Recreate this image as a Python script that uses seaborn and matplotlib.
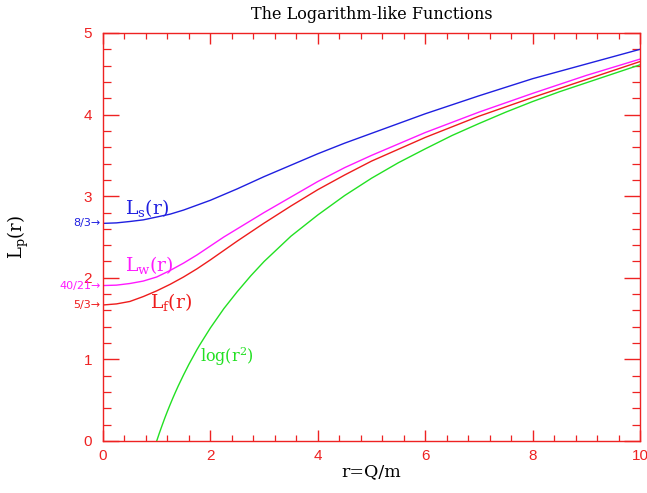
import numpy as np
import pandas as pd
import matplotlib
matplotlib.use("Agg")
import matplotlib.pyplot as plt
from matplotlib.ticker import MultipleLocator
import seaborn as sns

# ---- data ----
r_vals = [0, 0.25, 0.5, 0.75, 1.0, 1.25, 1.5, 1.75, 2.0, 2.25, 2.5, 2.75, 3.0,
          3.5, 4.0, 4.5, 5.0, 6.0, 7.0, 8.0, 9.0, 10.0]
Ls_vals = [2.667, 2.673, 2.69, 2.71, 2.745, 2.78, 2.83, 2.89, 2.95, 3.02, 3.09, 3.165, 3.24,
           3.38, 3.52, 3.65, 3.77, 4.01, 4.23, 4.44, 4.62, 4.80]
Lw_vals = [1.905, 1.91, 1.93, 1.96, 2.01, 2.09, 2.18, 2.28, 2.39, 2.50, 2.60, 2.70, 2.80,
           2.99, 3.18, 3.35, 3.50, 3.78, 4.03, 4.26, 4.48, 4.68]
Lf_vals = [1.667, 1.68, 1.71, 1.77, 1.84, 1.92, 2.01, 2.11, 2.22, 2.335, 2.45, 2.56, 2.67,
           2.88, 3.08, 3.26, 3.43, 3.72, 3.98, 4.21, 4.43, 4.65]
rg_vals = [1.0, 1.05, 1.1, 1.15, 1.2, 1.25, 1.3, 1.35, 1.4, 1.5, 1.6, 1.75, 1.8, 2.0, 2.25,
           2.5, 2.75, 3.0, 3.5, 4.0, 4.5, 5.0, 5.5, 6.0, 6.5, 7.0, 7.5, 8.0, 8.5, 9.0, 9.5, 10.0]
log_vals = [0.0, 0.098, 0.19, 0.28, 0.365, 0.446, 0.525, 0.60, 0.673, 0.81, 0.94, 1.12, 1.176,
            1.386, 1.622, 1.83, 2.023, 2.20, 2.51, 2.77, 3.008, 3.22, 3.41, 3.58, 3.744,
            3.89, 4.03, 4.16, 4.28, 4.39, 4.50, 4.61]

start_labels = ["8/3", "40/21", "5/3"]
start_values = [8 / 3, 40 / 21, 5 / 3]

title = "The Logarithm-like Functions"
xlabel = "r=Q/m"
ylabel = r"$\mathrm{L_p(r)}$"

BLUE = "#1f1fe0"
MAG = "#ff19ff"
RED = "#ee1c1c"
GREEN = "#22e022"
AXRED = "#ee2222"

sns.set_theme(style="white")
plt.rcParams["mathtext.fontset"] = "dejavuserif"
plt.rcParams["font.family"] = ["DejaVu Sans"]

fig = plt.figure(figsize=(6.47, 4.93), dpi=100)
ax = fig.add_axes([103 / 647, 1 - 441 / 493, (640 - 103) / 647, (441 - 33) / 493])

df = pd.DataFrame({"r": r_vals, "Ls": Ls_vals, "Lw": Lw_vals, "Lf": Lf_vals})
dg = pd.DataFrame({"r": rg_vals, "log": log_vals})

lw = 1.0
sns.lineplot(data=dg, x="r", y="log", ax=ax, color=GREEN, linewidth=lw, sort=False)
sns.lineplot(data=df, x="r", y="Lf", ax=ax, color=RED, linewidth=lw, sort=False)
sns.lineplot(data=df, x="r", y="Lw", ax=ax, color=MAG, linewidth=lw, sort=False)
sns.lineplot(data=df, x="r", y="Ls", ax=ax, color=BLUE, linewidth=lw, sort=False)

ax.set_xlim(0, 10)
ax.set_ylim(0, 5)
ax.xaxis.set_major_locator(MultipleLocator(2))
ax.xaxis.set_minor_locator(MultipleLocator(0.4))
ax.yaxis.set_major_locator(MultipleLocator(1))
ax.yaxis.set_minor_locator(MultipleLocator(0.2))
ax.tick_params(axis="x", which="major", direction="in", length=8, width=1.0,
               top=True, bottom=True, colors=AXRED, labelsize=11, pad=6)
ax.tick_params(axis="x", which="minor", direction="in", length=4, width=0.9,
               top=True, bottom=True, colors=AXRED)
ax.tick_params(axis="y", which="major", direction="in", length=11.5, width=1.0,
               left=True, right=True, colors=AXRED, labelsize=11, pad=8)
ax.tick_params(axis="y", which="minor", direction="in", length=5.5, width=0.9,
               left=True, right=True, colors=AXRED)
for lab in ax.get_xticklabels() + ax.get_yticklabels():
    lab.set_fontfamily("Liberation Sans")
for s in ax.spines.values():
    s.set_color(AXRED)
    s.set_linewidth(1.0)

ax.set_title(title, fontfamily="DejaVu Serif", fontsize=11.5, color="black", pad=10)
ax.set_xlabel(xlabel, fontfamily="DejaVu Serif", fontsize=12.5, color="black", labelpad=0)
ax.set_ylabel(ylabel, fontsize=13, color="black", labelpad=38)

# curve labels
ax.text(0.41, 2.86, r"$\mathrm{L_s(r)}$", color=BLUE, fontsize=13.5, va="center", ha="left")
ax.text(0.41, 2.16, r"$\mathrm{L_w(r)}$", color=MAG, fontsize=13.5, va="center", ha="left")
ax.text(0.88, 1.70, r"$\mathrm{L_f(r)}$", color=RED, fontsize=13.5, va="center", ha="left")
ax.text(1.80, 1.03, r"$\mathrm{log(r^2)}$", color=GREEN, fontsize=11.5, va="center", ha="left")

# starting-value markers on the left
for lab, val, col in zip(start_labels, start_values, [BLUE, MAG, RED]):
    ax.text(-0.05, val, lab + "\u2192", color=col, fontsize=8, ha="right", va="center",
            clip_on=False, fontfamily="DejaVu Sans")

fig.savefig("out.png", dpi=100, facecolor="white")
